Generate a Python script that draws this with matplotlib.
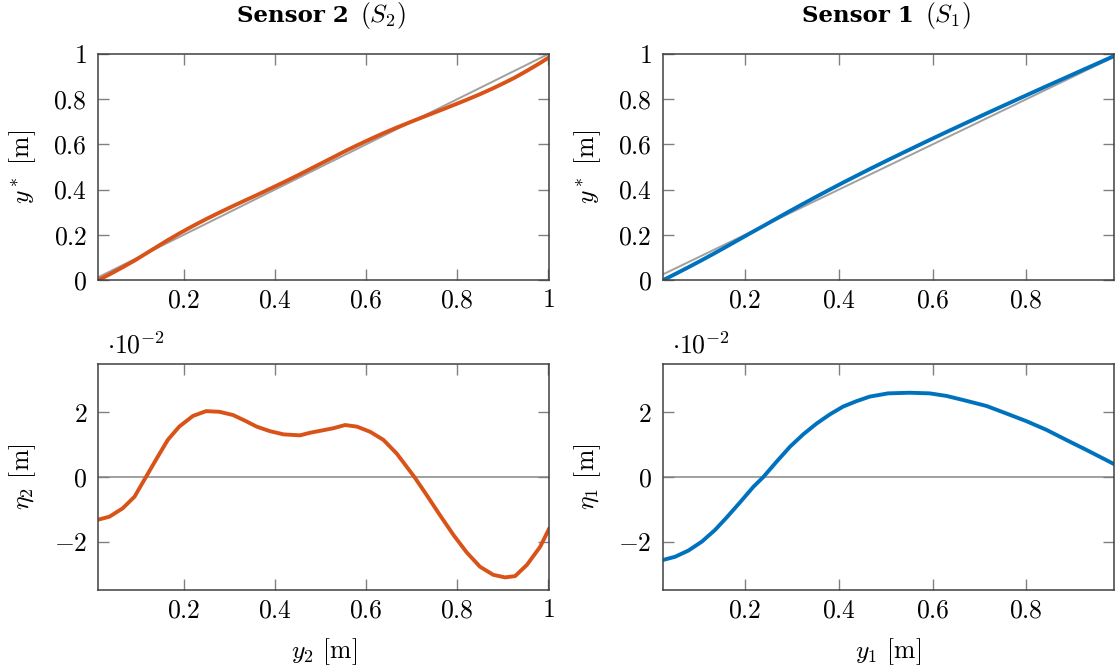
import numpy as np
import matplotlib
matplotlib.use('Agg')
import matplotlib.pyplot as plt
from matplotlib.ticker import FixedLocator, FuncFormatter

plt.rcParams.update({
    'font.family': 'serif',
    'font.serif': ['cmr10'],
    'mathtext.fontset': 'cm',
    'axes.formatter.use_mathtext': True,
})

# Sensor 2 data: position y2 [m] and error eta2 [1e-2 m]
y2 = [0.0125, 0.0368, 0.066, 0.092, 0.117, 0.143, 0.165, 0.190, 0.220, 0.249,
      0.278, 0.308, 0.335, 0.360, 0.389, 0.419, 0.455, 0.477, 0.499, 0.528,
      0.554, 0.580, 0.609, 0.638, 0.667, 0.689, 0.706, 0.733, 0.762, 0.792,
      0.821, 0.850, 0.879, 0.905, 0.927, 0.953, 0.982, 1.002]
eta2 = [-1.32, -1.23, -0.97, -0.61, 0.0, 0.63, 1.15, 1.56, 1.89, 2.04,
        2.02, 1.92, 1.74, 1.56, 1.42, 1.32, 1.29, 1.37, 1.43, 1.51,
        1.61, 1.56, 1.40, 1.15, 0.73, 0.32, 0.0, -0.56, -1.18, -1.80,
        -2.34, -2.78, -3.03, -3.11, -3.07, -2.72, -2.16, -1.59]

# Sensor 1 data: position y1 [m] and error eta1 [1e-2 m]
y1 = [0.025, 0.0509, 0.079, 0.108, 0.136, 0.161, 0.189, 0.218, 0.239, 0.267,
      0.296, 0.324, 0.353, 0.381, 0.409, 0.438, 0.466, 0.505, 0.551, 0.594,
      0.630, 0.672, 0.715, 0.757, 0.800, 0.843, 0.885, 0.928, 0.963, 0.987]
eta1 = [-2.57, -2.47, -2.28, -2.00, -1.64, -1.25, -0.79, -0.30, 0.0, 0.47,
        0.94, 1.32, 1.66, 1.94, 2.18, 2.35, 2.49, 2.59, 2.61, 2.59,
        2.51, 2.36, 2.20, 1.97, 1.73, 1.46, 1.15, 0.84, 0.58, 0.40]

title_bold = ['Sensor 2', 'Sensor 1']
title_math = [r'$(S_2)$', r'$(S_1)$']
xlabels = [r'$y_2$ [m]', r'$y_1$ [m]']
elabels = [r'$\eta_2$ [m]', r'$\eta_1$ [m]']
xticks_l = [0.2, 0.4, 0.6, 0.8, 1.0]
xticks_r = [0.2, 0.4, 0.6, 0.8]
ytop_ticks = [0, 0.2, 0.4, 0.6, 0.8, 1.0]
ybot_ticks = [-2, 0, 2]

ORANGE = '#D95319'
BLUE = '#0072BD'
GRAY = '#a0a0a0'
FS = 18.5

W, H = 1118, 669
fig = plt.figure(figsize=(W / 100, H / 100), dpi=100)

def fx(px):
    return px / W

def fy(py):
    return 1 - py / H

axw = 451 / W
axh = 226 / H
lefts = [fx(98.3), fx(663)]
bottoms = [fy(280), fy(590)]

fmt = FuncFormatter(lambda v, p: '$%g$' % v)

series = [(y2, eta2, ORANGE, (0.0125, 1.002), xticks_l),
          (y1, eta1, BLUE, (0.025, 0.987), xticks_r)]

for col, (yy, ee, color, xlim, xt) in enumerate(series):
    yy = np.array(yy)
    ee = np.array(ee)
    ystar = yy + ee / 100.0
    axt = fig.add_axes([lefts[col], bottoms[0], axw, axh])
    axb = fig.add_axes([lefts[col], bottoms[1], axw, axh])

    axt.axline((0, 0), slope=1, color=GRAY, lw=1.4, zorder=1)
    axt.plot(yy, ystar, color=color, lw=2.8, zorder=2, solid_capstyle='round',
             solid_joinstyle='round')
    axt.set_xlim(*xlim)
    axt.set_ylim(0, 1)
    axt.text(0.555, 1.1416, title_bold[col], transform=axt.transAxes,
             fontfamily='DejaVu Serif', fontweight='bold', fontsize=16.5,
             ha='right', va='baseline')
    axt.text(0.58, 1.1416, title_math[col], transform=axt.transAxes,
             fontsize=FS, ha='left', va='baseline')
    axt.set_ylabel(r'$y^*$ [m]', fontsize=FS)

    axb.axhline(0, color=GRAY, lw=1.4, zorder=1)
    axb.plot(yy, ee, color=color, lw=2.8, zorder=2, solid_capstyle='round',
             solid_joinstyle='round')
    axb.set_xlim(*xlim)
    axb.set_ylim(-3.5, 3.5)
    axb.set_xlabel(xlabels[col], fontsize=FS)
    axb.set_ylabel(elabels[col], fontsize=FS)
    axb.text(0.02, 1.025, r'$\cdot 10^{-2}$', transform=axb.transAxes,
             fontsize=FS, ha='left', va='bottom')

    for ax, yt in ((axt, ytop_ticks), (axb, ybot_ticks)):
        ax.xaxis.set_major_locator(FixedLocator(xt))
        ax.yaxis.set_major_locator(FixedLocator(yt))
        ax.xaxis.set_major_formatter(fmt)
        ax.yaxis.set_major_formatter(fmt)
        ax.tick_params(direction='in', top=True, right=True, length=8,
                       width=1.0, color='#808080', labelsize=FS, pad=6)
        ax.tick_params(axis='y', pad=8)
        for s in ax.spines.values():
            s.set_color('#404040')
            s.set_linewidth(1.1)
        ax.yaxis.set_label_coords(-0.133, 0.5)
    axb.xaxis.set_label_coords(0.5, -0.205)

fig.savefig('out.png', dpi=100)
